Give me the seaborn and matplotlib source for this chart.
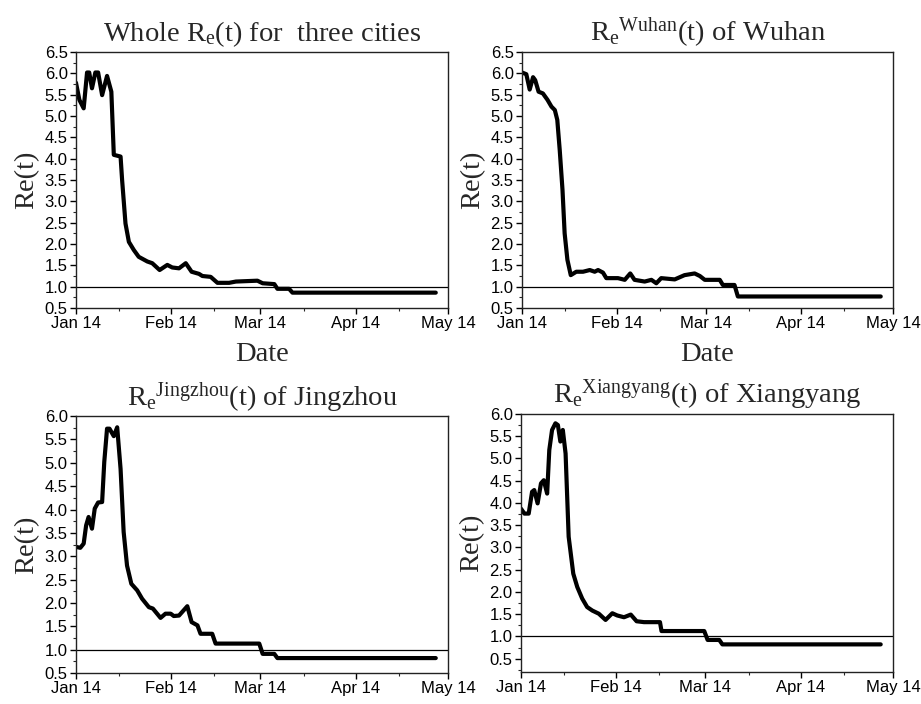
import pandas as pd
import matplotlib
matplotlib.use('Agg')
from matplotlib import pyplot as plt
import matplotlib.dates as mdates
from matplotlib.ticker import MultipleLocator, FormatStrFormatter
import seaborn as sns

START = '2020-01-14'

# Re(t) curves: day offset from Jan 14 and value
WHOLE_DAYS = [0, 1.1, 2.5, 3.6, 4.3, 5.2, 6.3, 7.2, 8.5, 10.1, 11.5, 12.3, 14.5, 15.0, 16.1, 17.2,
              18.8, 20.4, 23.2, 24.8, 27.2, 29.7, 31.3, 33.5, 35.7, 37.6, 40.0, 41.1, 43.8, 46.0,
              49.8, 52.0, 59.0, 60.7, 64.5, 65.5, 69.3, 70.4, 117]
WHOLE_RE = [5.78, 5.38, 5.18, 6.02, 6.02, 5.65, 6.02, 6.02, 5.49, 5.94, 5.57, 4.09, 4.05, 3.5, 2.48, 2.05,
            1.86, 1.70, 1.59, 1.55, 1.39, 1.51, 1.45, 1.43, 1.55, 1.35, 1.30, 1.25, 1.23, 1.09,
            1.09, 1.12, 1.14, 1.08, 1.06, 0.95, 0.95, 0.86, 0.86]

WUHAN_DAYS = [0, 1.4, 2.5, 3.6, 4.3, 5.4, 6.8, 8.3, 9.6, 10.7, 11.5, 12.3, 13.2, 13.9, 14.8, 15.9,
              17.7, 19.9, 22.1, 23.7, 24.8, 26.4, 27.5, 31.3, 33.5, 35.3, 36.7, 40.0, 42.2, 43.8,
              45.4, 49.8, 53.0, 56.3, 58.0, 59.6, 64.5, 65.5, 69.3, 70.4, 117]
WUHAN_RE = [6.02, 5.98, 5.62, 5.91, 5.84, 5.57, 5.53, 5.38, 5.22, 5.14, 4.91, 4.2, 3.27, 2.25, 1.63, 1.27,
            1.35, 1.35, 1.39, 1.35, 1.39, 1.33, 1.2, 1.2, 1.16, 1.31, 1.16, 1.12, 1.16, 1.08,
            1.20, 1.17, 1.27, 1.31, 1.25, 1.16, 1.16, 1.04, 1.04, 0.77, 0.77]

JINGZHOU_DAYS = [0, 1.4, 2.5, 3.3, 4.1, 5.2, 6.1, 7.2, 8.5, 9.2, 10.1, 10.9, 12.3, 13.4, 14.5, 15.5,
                 16.6, 18.0, 19.9, 21.5, 23.7, 25.0, 27.5, 29.1, 30.8, 31.8, 33.5, 36.2, 37.6, 39.5,
                 40.5, 44.3, 45.4, 59.6, 60.7, 64.5, 65.5, 117]
JINGZHOU_RE = [3.2, 3.18, 3.27, 3.66, 3.84, 3.59, 4.02, 4.15, 4.16, 5.02, 5.73, 5.73, 5.57, 5.76, 4.87, 3.52,
               2.80, 2.41, 2.27, 2.09, 1.91, 1.88, 1.68, 1.77, 1.77, 1.72, 1.73, 1.93, 1.59, 1.52,
               1.34, 1.34, 1.13, 1.13, 0.91, 0.91, 0.82, 0.82]

XIANGYANG_DAYS = [0, 1.1, 2.5, 3.6, 4.3, 5.4, 6.5, 7.4, 8.5, 9.2, 10.1, 11.2, 12.0, 12.8, 13.6, 14.5,
                  15.5, 17.0, 18.3, 19.9, 21.5, 23.2, 25.3, 27.5, 29.7, 31.3, 33.5, 35.7, 37.6, 40.0,
                  45.2, 45.7, 59.6, 60.7, 64.5, 65.5, 117]
XIANGYANG_RE = [3.87, 3.76, 3.76, 4.25, 4.29, 3.99, 4.44, 4.51, 4.21, 5.19, 5.64, 5.79, 5.75, 5.38, 5.64, 5.11,
                3.24, 2.41, 2.11, 1.85, 1.66, 1.58, 1.51, 1.37, 1.52, 1.47, 1.43, 1.49, 1.34, 1.32,
                1.32, 1.12, 1.12, 0.92, 0.92, 0.82, 0.82]

TITLES = [r'Whole R$_\mathrm{e}$(t) for  three cities',
          r'R$_\mathrm{e}$$^\mathrm{Wuhan}$(t) of Wuhan',
          r'R$_\mathrm{e}$$^\mathrm{Jingzhou}$(t) of Jingzhou',
          r'R$_\mathrm{e}$$^\mathrm{Xiangyang}$(t) of Xiangyang']
YLIMS = [(0.5, 6.5), (0.5, 6.5), (0.5, 6.0), (0.2, 6.0)]

sns.set_style('ticks')
plt.rcParams['font.family'] = ['Liberation Sans', 'DejaVu Sans']
plt.rcParams['mathtext.fontset'] = 'custom'
plt.rcParams['mathtext.rm'] = 'Liberation Serif'
plt.rcParams['mathtext.it'] = 'Liberation Serif:italic'

fig = plt.figure(figsize=(9.21, 7.04), dpi=100)
positions = [
    [0.0825, 0.5625, 0.404, 0.3636],
    [0.5668, 0.5625, 0.4028, 0.3636],
    [0.0825, 0.044, 0.404, 0.365],
    [0.5657, 0.0455, 0.4039, 0.3665],
]
series = [(WHOLE_DAYS, WHOLE_RE), (WUHAN_DAYS, WUHAN_RE),
          (JINGZHOU_DAYS, JINGZHOU_RE), (XIANGYANG_DAYS, XIANGYANG_RE)]

serif = {'family': 'Liberation Serif', 'size': 20.5}

for i, (days, vals) in enumerate(series):
    ax = fig.add_axes(positions[i])
    df = pd.DataFrame({
        'date': pd.Timestamp(START) + pd.to_timedelta(days, unit='D'),
        're': vals,
    })
    sns.lineplot(data=df, x='date', y='re', ax=ax, color='black', linewidth=3.0,
                 sort=False, estimator=None)
    ax.axhline(1.0, color='black', linewidth=0.9)

    ax.set_xlim(pd.Timestamp('2020-01-14'), pd.Timestamp('2020-05-14'))
    ax.set_ylim(*YLIMS[i])
    ax.xaxis.set_major_locator(mdates.MonthLocator(bymonthday=14))
    ax.xaxis.set_minor_locator(mdates.DayLocator(bymonthday=28))
    ax.xaxis.set_major_formatter(mdates.DateFormatter('%b %d'))
    ax.yaxis.set_major_locator(MultipleLocator(0.5))
    ax.yaxis.set_minor_locator(MultipleLocator(0.25))
    ax.yaxis.set_major_formatter(FormatStrFormatter('%.1f'))
    ax.tick_params(which='major', direction='out', length=4, width=1, labelsize=12,
                   pad=2, colors='black')
    ax.tick_params(which='minor', direction='out', length=2.5, width=0.8)
    for s in ax.spines.values():
        s.set_linewidth(1.0)
        s.set_color('#222222')

    ax.set_title(TITLES[i], fontdict=serif, pad=8)
    ax.set_ylabel('Re(t)', fontdict=serif, labelpad=4)
    if i < 2:
        ax.set_xlabel('Date', fontdict=serif, labelpad=8)
    else:
        ax.set_xlabel('')

fig.savefig('out.png', dpi=100)
